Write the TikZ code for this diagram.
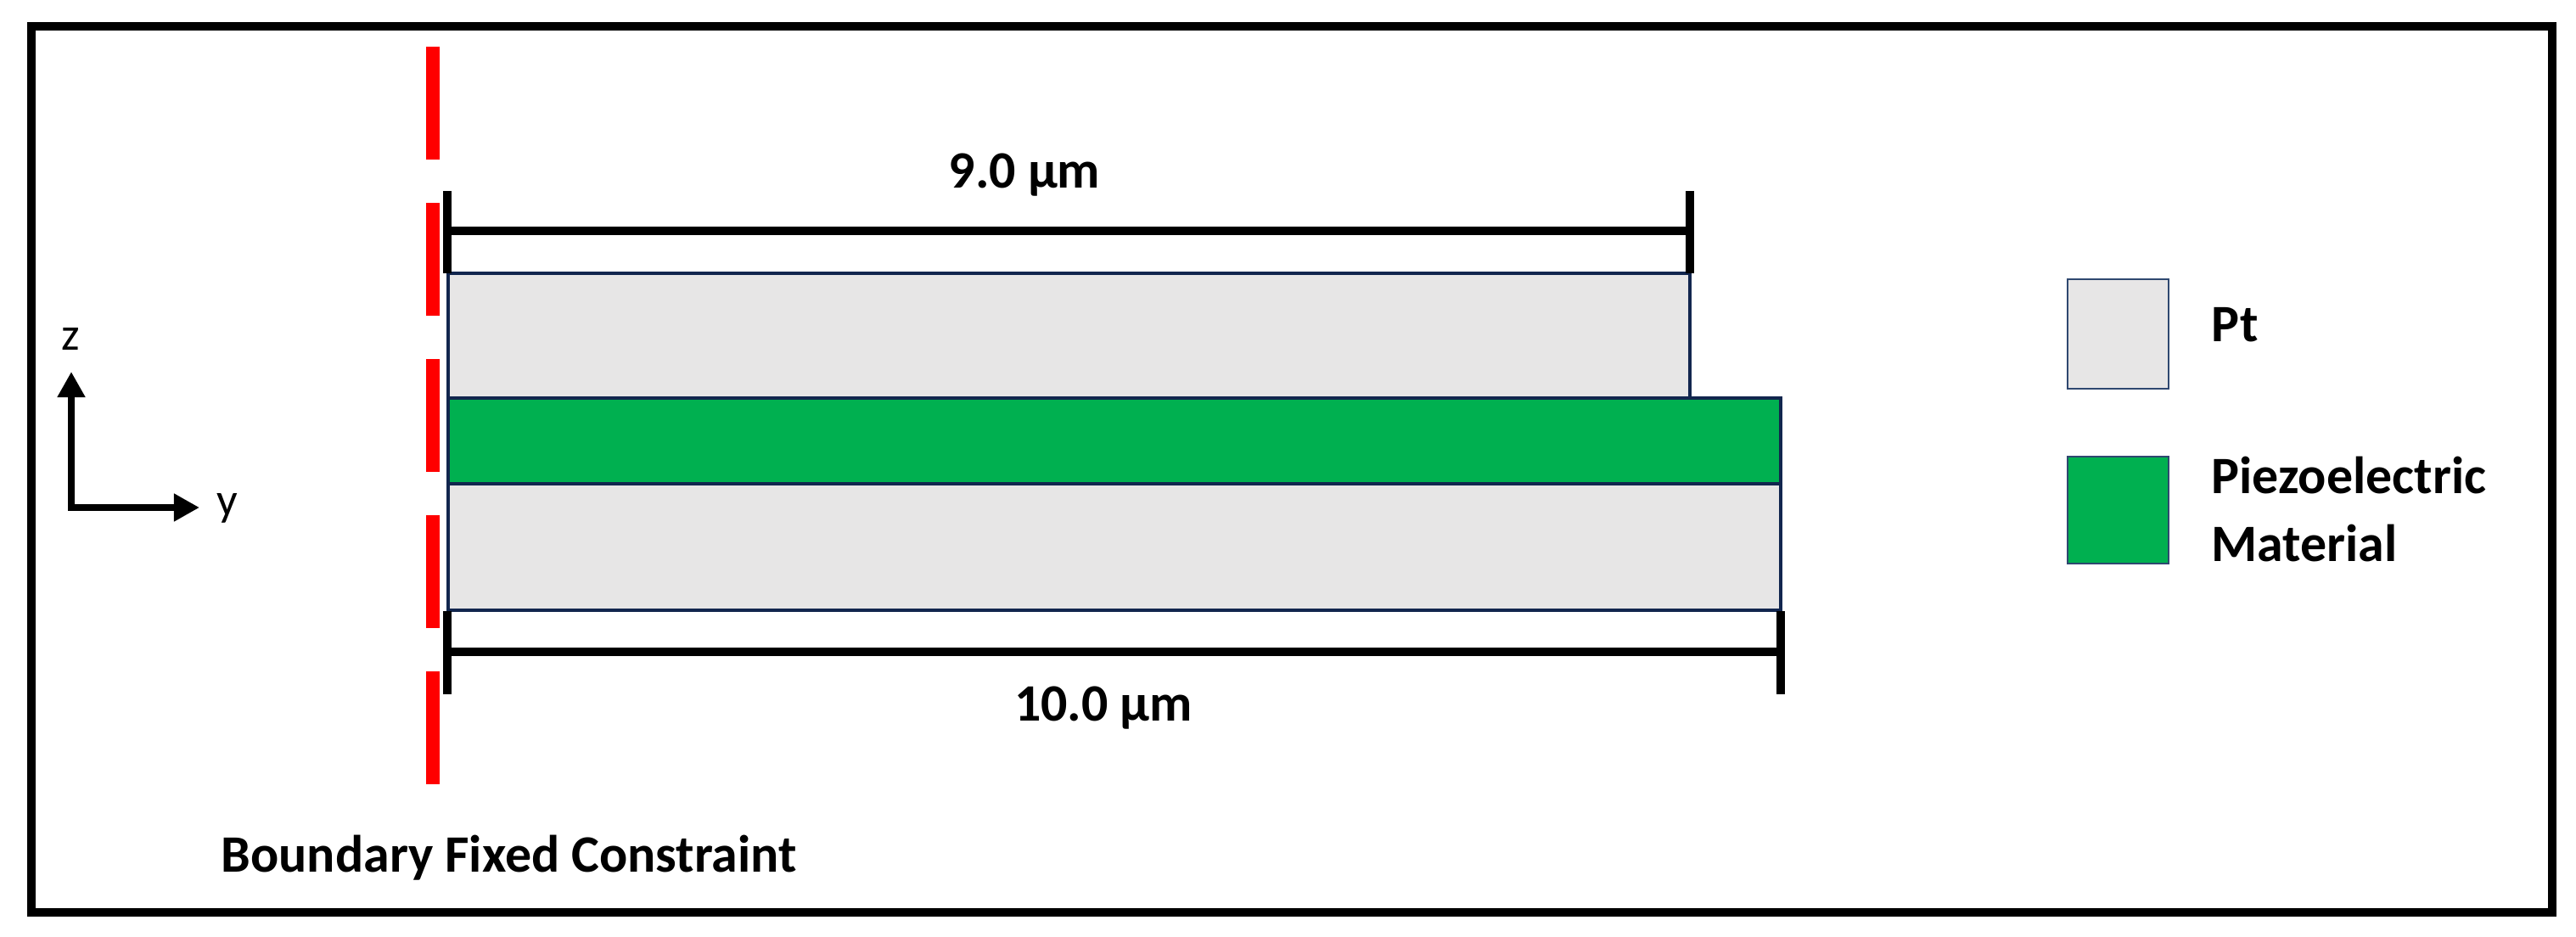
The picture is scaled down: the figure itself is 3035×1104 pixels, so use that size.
\documentclass[tikz,border=0pt]{standalone}
\usepackage{fontspec}
\setmainfont{Carlito}
\usetikzlibrary{arrows.meta}
\definecolor{ptgrey}{RGB}{231,230,230}
\definecolor{piezo}{RGB}{0,176,80}
\definecolor{navy}{RGB}{18,38,78}
\definecolor{legline}{RGB}{47,72,112}
\definecolor{cred}{RGB}{255,0,0}
\begin{document}
\begin{tikzpicture}[x=0.01cm,y=-0.01cm,
  layer/.style={draw=navy,line width=1pt},
  legbox/.style={draw=legline,line width=0.8pt},
  dimline/.style={line width=3pt,black},
  dimtick/.style={line width=2.8pt,black},
  lbl/.style={font=\bfseries\fontsize{17.6}{23}\selectfont,inner sep=0pt},
  axlbl/.style={font=\fontsize{15.5}{18}\selectfont,inner sep=0pt},
  axarrow/.style={line width=2.3pt,line join=miter,
    {Triangle[length=0.3cm,width=0.31cm]}-{Triangle[length=0.3cm,width=0.31cm]}},
]
\useasboundingbox (0,0) rectangle (3035,1104);
% frame
\draw[line width=2.6pt] (37,31) rectangle (3007,1075);
% boundary constraint line
\draw[cred,line width=4.3pt,dash pattern=on 1.33cm off 0.51cm] (510,55) -- (510,925);
% layers
\filldraw[layer,fill=ptgrey] (528,322) rectangle (1991,469);
\filldraw[layer,fill=ptgrey] (528,570) rectangle (2098,719);
\filldraw[layer,fill=piezo] (528,469) rectangle (2098,570);
% dimension top
\coordinate (t1a) at (527,225); \coordinate (t1b) at (527,322);
\coordinate (t2a) at (1991,225); \coordinate (t2b) at (1991,322);
\coordinate (d1l) at (527,272); \coordinate (d1r) at (1991,272);
\draw[dimtick] (t1a) -- (t1b);
\draw[dimtick] (t2a) -- (t2b);
\draw[dimline] (d1l) -- (d1r);
\node[lbl,anchor=base] (dim9) at (1207,222) {9.0 µm};
% dimension bottom
\coordinate (b1a) at (527,720); \coordinate (b1b) at (527,818);
\coordinate (b2a) at (2098,720); \coordinate (b2b) at (2098,818);
\coordinate (d2l) at (527,768); \coordinate (d2r) at (2098,768);
\draw[dimtick] (b1a) -- (b1b);
\draw[dimtick] (b2a) -- (b2b);
\draw[dimline] (d2l) -- (d2r);
\node[lbl,anchor=base] (dim10) at (1300,850) {10.0 µm};
% axes
\coordinate (ztip) at (84,438);
\coordinate (corner) at (84,598);
\coordinate (ytip) at (235,598);
\draw[axarrow] (ztip) -- (corner) -- (ytip);
\node[axlbl,anchor=base] (zl) at (83,413) {z};
\node[axlbl,anchor=base west] (yl) at (255,608) {y};
% boundary label
\node[lbl,anchor=base west] (bfc) at (260,1028) {Boundary Fixed Constraint};
% legend
\filldraw[legbox,fill=ptgrey] (2436,329) rectangle (2555,458);
\filldraw[legbox,fill=piezo] (2436,538) rectangle (2555,664);
\node[lbl,anchor=base west] (ptl) at (2605,403) {Pt};
\node[lbl,anchor=base west] (pzl1) at (2605,582) {Piezoelectric};
\node[lbl,anchor=base west] (pzl2) at (2605,662) {Material};
\end{tikzpicture}
\end{document}
